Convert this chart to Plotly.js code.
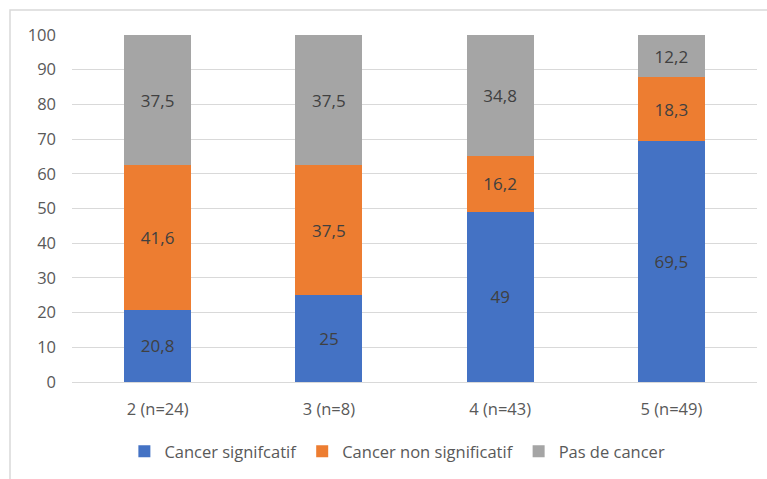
<!DOCTYPE html>
<html>
<head>
<meta charset="utf-8">
<script src="https://cdn.plot.ly/plotly-3.0.1.min.js"></script>
<style>
  html, body { margin: 0; padding: 0; background: #fff; }
  #chart { width: 767px; height: 479px; }
</style>
</head>
<body>
<div id="chart"></div>
<script>
// Score categories along the x axis
const categories = ['2 (n=24)', '3 (n=8)', '4 (n=43)', '5 (n=49)'];

// Percentages per category for each outcome
const cancerSignificatif = [20.8, 25, 49, 69.5];
const cancerNonSignificatif = [41.6, 37.5, 16.2, 18.3];
const pasDeCancer = [37.5, 37.5, 34.8, 12.2];

const seriesNames = ['Cancer signifcatif', 'Cancer non significatif', 'Pas de cancer'];
const yTicks = [0, 10, 20, 30, 40, 50, 60, 70, 80, 90, 100];

const fontFamily = '"Open Sans", "Liberation Sans", sans-serif';
const textColor = '#595959';
const fontSize = 16.5;

// French decimal format for the in-bar labels
const fmt = v => String(v).replace('.', ',');

function barTrace(name, values, color) {
  return {
    type: 'bar',
    name: name,
    x: categories,
    y: values,
    text: values.map(fmt),
    textposition: 'inside',
    insidetextanchor: 'middle',
    constraintext: 'none',
    textfont: { family: fontFamily, size: 17, color: '#404040' },
    marker: { color: color, line: { width: 0 } },
    hoverinfo: 'skip'
  };
}

const data = [
  barTrace(seriesNames[0], cancerSignificatif, '#4472C4'),
  barTrace(seriesNames[1], cancerNonSignificatif, '#ED7D31'),
  barTrace(seriesNames[2], pasDeCancer, '#A5A5A5')
];

const layout = {
  width: 767,
  height: 479,
  margin: { l: 72, r: 10, t: 35, b: 97 },
  paper_bgcolor: '#ffffff',
  plot_bgcolor: '#ffffff',
  barmode: 'stack',
  bargap: 0.61,
  font: { family: fontFamily, size: fontSize, color: textColor },
  xaxis: {
    type: 'category',
    showgrid: false,
    showline: true,
    linecolor: '#D9D9D9',
    linewidth: 1,
    ticks: '',
    ticklabelstandoff: 12,
    tickfont: { family: fontFamily, size: fontSize, color: textColor },
    fixedrange: true
  },
  yaxis: {
    range: [0, 100],
    tickvals: yTicks,
    ticktext: yTicks.map(String),
    showgrid: true,
    gridcolor: '#D9D9D9',
    gridwidth: 1,
    zeroline: false,
    showline: false,
    ticks: '',
    ticklabelstandoff: 15,
    tickfont: { family: fontFamily, size: fontSize, color: textColor },
    fixedrange: true
  },
  legend: {
    orientation: 'h',
    x: 0.475,
    xanchor: 'center',
    y: -0.2,
    yanchor: 'middle',
    traceorder: 'normal',
    itemwidth: 30,
    font: { family: fontFamily, size: fontSize, color: textColor }
  },
  shapes: [
    {
      type: 'rect',
      xref: 'paper', yref: 'paper',
      x0: -0.0905, x1: 1.03,
      y0: -0.32, y1: 1.072,
      line: { color: '#D9D9D9', width: 1.5 },
      fillcolor: 'rgba(0,0,0,0)',
      layer: 'below'
    }
  ],
  showlegend: true
};

Plotly.newPlot('chart', data, layout, { displayModeBar: false, staticPlot: true });
</script>
</body>
</html>
